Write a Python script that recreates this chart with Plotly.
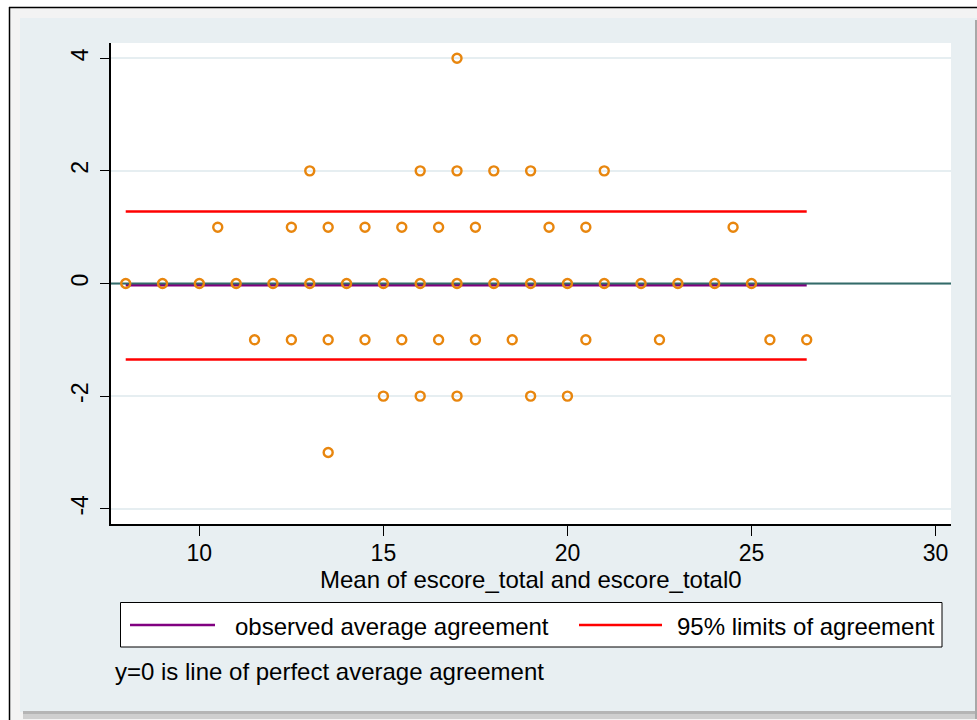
import plotly.graph_objects as go

# ---------------- data ----------------
mean_vals = [8, 9, 10, 11, 12, 13, 14, 15, 16, 17, 18, 19, 20, 21, 22, 23, 24, 25,
             17,
             13, 16, 17, 18, 19, 21,
             10.5, 12.5, 13.5, 14.5, 15.5, 16.5, 17.5, 19.5, 20.5, 24.5,
             11.5, 12.5, 13.5, 14.5, 15.5, 16.5, 17.5, 18.5, 20.5, 22.5, 25.5, 26.5,
             15, 16, 17, 19, 20,
             13.5]
diff_vals = [0] * 18 + \
            [4] + \
            [2] * 6 + \
            [1] * 10 + \
            [-1] * 12 + \
            [-2] * 5 + \
            [-3]

line_x = [8, 26.5]           # extent of the agreement lines
mean_diff = -0.03            # observed average agreement
upper_loa = 1.28             # 95% limits of agreement
lower_loa = -1.35

x_range = [7.6, 30.42]
y_range = [-4.27, 4.27]
x_ticks = [10, 15, 20, 25, 30]
y_ticks = [-4, -2, 0, 2, 4]
y_tick_text = ["-4", "-2", "0", "2", "4"]

x_title = "Mean of escore_total and escore_total0"
legend_labels = ["observed average agreement", "95% limits of agreement"]
note_text = "y=0 is line of perfect average agreement"

# ---------------- styling ----------------
W, H = 977, 720
L, R, T, B = 111, 951, 43, 524
FONT = "Liberation Sans, Arial, sans-serif"
TXT = 24
TICK = 23
PANEL = "#e8eff2"
PURPLE = "#800080"
RED = "#ff0000"
TEAL = "#336b69"
ORANGE = "#e8860e"


def px(xp):
    return (xp - L) / (R - L)


def py(yp):
    return (B - yp) / (B - T)


fig = go.Figure()

fig.add_trace(go.Scatter(x=line_x, y=[mean_diff, mean_diff], mode="lines",
                         line=dict(color=PURPLE, width=2.5),
                         name=legend_labels[0], showlegend=False, hoverinfo="skip"))
fig.add_trace(go.Scatter(x=line_x, y=[upper_loa, upper_loa], mode="lines",
                         line=dict(color=RED, width=2.5),
                         name=legend_labels[1], showlegend=False, hoverinfo="skip"))
fig.add_trace(go.Scatter(x=line_x, y=[lower_loa, lower_loa], mode="lines",
                         line=dict(color=RED, width=2.5),
                         name=legend_labels[1], showlegend=False, hoverinfo="skip"))
fig.add_trace(go.Scatter(x=x_range, y=[0, 0], mode="lines",
                         line=dict(color=TEAL, width=2),
                         name="perfect agreement", showlegend=False, hoverinfo="skip"))
fig.add_trace(go.Scatter(x=mean_vals, y=diff_vals, mode="markers",
                         marker=dict(symbol="circle-open", size=9, color=ORANGE,
                                     line=dict(width=2.4, color=ORANGE)),
                         name="difference", showlegend=False))

shapes = []
# outer frame (white margin, black border, light gray strip, shadow)
shapes.append(dict(type="rect", xref="paper", yref="paper", x0=px(0), x1=px(9),
                   y0=py(0), y1=py(H), fillcolor="white", line_width=0, layer="below"))
shapes.append(dict(type="rect", xref="paper", yref="paper", x0=px(0), x1=px(W),
                   y0=py(0), y1=py(7), fillcolor="white", line_width=0, layer="below"))
shapes.append(dict(type="rect", xref="paper", yref="paper", x0=px(10), x1=px(20),
                   y0=py(8), y1=py(H), fillcolor="#f3f3f3", line_width=0, layer="below"))
shapes.append(dict(type="rect", xref="paper", yref="paper", x0=px(10), x1=px(W),
                   y0=py(8), y1=py(18), fillcolor="#f3f3f3", line_width=0, layer="below"))
shapes.append(dict(type="rect", xref="paper", yref="paper", x0=px(20), x1=px(W),
                   y0=py(712), y1=py(H), fillcolor="#f3f3f3", line_width=0, layer="below"))
shapes.append(dict(type="rect", xref="paper", yref="paper", x0=px(23), x1=px(W),
                   y0=py(711), y1=py(719), fillcolor="#cfcfcf", line_width=0, layer="below"))
shapes.append(dict(type="rect", xref="paper", yref="paper", x0=px(23), x1=px(W),
                   y0=py(711), y1=py(714), fillcolor="#b5b5b5", line_width=0, layer="below"))
shapes.append(dict(type="rect", xref="paper", yref="paper", x0=px(975), x1=px(W),
                   y0=py(20), y1=py(719), fillcolor="#a8a8a8", line_width=0, layer="below"))
shapes.append(dict(type="line", xref="paper", yref="paper", x0=px(9.5), x1=px(9.5),
                   y0=py(7), y1=py(H), line=dict(color="black", width=1.5), layer="below"))
shapes.append(dict(type="line", xref="paper", yref="paper", x0=px(9), x1=px(W),
                   y0=py(7.5), y1=py(7.5), line=dict(color="black", width=1.5), layer="below"))

# legend box
shapes.append(dict(type="rect", xref="paper", yref="paper", x0=px(120.5), x1=px(942),
                   y0=py(602.5), y1=py(647), fillcolor="white",
                   line=dict(color="black", width=1)))
shapes.append(dict(type="line", xref="paper", yref="paper", x0=px(130), x1=px(215),
                   y0=py(625), y1=py(625), line=dict(color=PURPLE, width=2.5)))
shapes.append(dict(type="line", xref="paper", yref="paper", x0=px(579), x1=px(662),
                   y0=py(625), y1=py(625), line=dict(color=RED, width=2.5)))

annotations = [
    dict(xref="paper", yref="paper", x=px(233), y=py(626), text=legend_labels[0],
         showarrow=False, xanchor="left", yanchor="middle",
         font=dict(family=FONT, size=TXT, color="black")),
    dict(xref="paper", yref="paper", x=px(675), y=py(626), text=legend_labels[1],
         showarrow=False, xanchor="left", yanchor="middle",
         font=dict(family=FONT, size=TXT, color="black")),
    dict(xref="paper", yref="paper", x=px(113), y=py(671), text=note_text,
         showarrow=False, xanchor="left", yanchor="middle",
         font=dict(family=FONT, size=TXT, color="black")),
    dict(xref="paper", yref="paper", x=0.5, y=py(579), text=x_title,
         showarrow=False, xanchor="center", yanchor="middle",
         font=dict(family=FONT, size=TXT, color="black")),
]

fig.update_layout(
    width=W, height=H,
    margin=dict(l=L, r=W - R, t=T, b=H - B, pad=0),
    paper_bgcolor=PANEL,
    plot_bgcolor="white",
    font=dict(family=FONT, size=TICK, color="black"),
    showlegend=False,
    shapes=shapes,
    annotations=annotations,
    xaxis=dict(range=x_range, tickvals=x_ticks, ticks="outside", ticklen=10,
               tickwidth=1.2, tickcolor="black", showgrid=False, zeroline=False,
               showline=True, linecolor="black", linewidth=1.5,
               tickfont=dict(family=FONT, size=TICK, color="black"),
               ticklabelstandoff=-2),
    yaxis=dict(range=y_range, tickvals=y_ticks, ticktext=y_tick_text,
               ticks="outside", ticklen=9,
               tickwidth=1.2, tickcolor="black", showgrid=True,
               gridcolor="#e6eef1", gridwidth=2, zeroline=False,
               showline=True, linecolor="black", linewidth=1.5, tickangle=-90,
               tickfont=dict(family=FONT, size=TICK, color="black"),
               ticklabelstandoff=3),
)

fig.write_html("out.html")
